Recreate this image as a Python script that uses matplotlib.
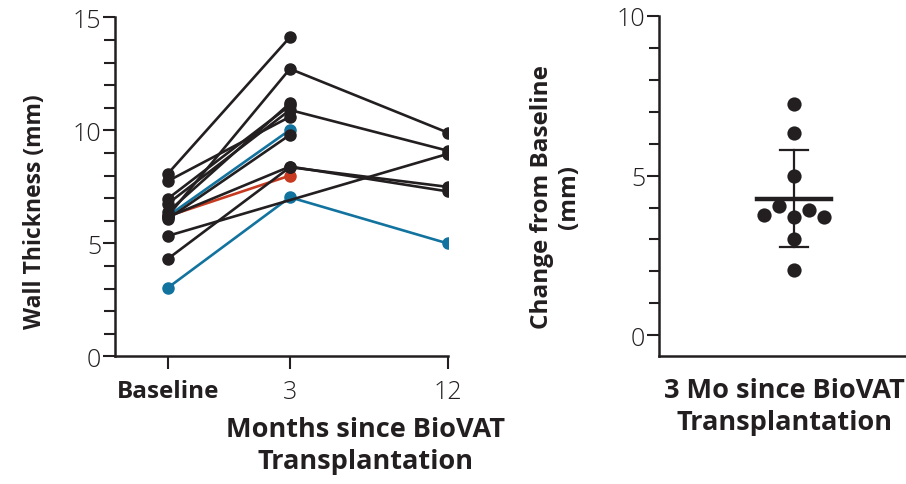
import numpy as np
import matplotlib
matplotlib.use("Agg")
import matplotlib.pyplot as plt

plt.rcParams['font.family'] = ['Open Sans', 'DejaVu Sans']

# wall thickness per patient: baseline, 3 mo, 12 mo (nan = not measured)
baseline = [8.07, 6.2, 7.75, 6.97, 6.75, 6.38, 6.2, 6.08, 4.31, 6.16, 6.2, 3.03, 5.33]
month3 = [14.12, 12.72, 10.6, 11.1, 10.9, 11.2, 10.02, 9.8, 8.37, 8.4, 8.0, 7.04, np.nan]
month12 = [np.nan, 9.9, np.nan, np.nan, 9.1, np.nan, np.nan, np.nan, 7.5, 7.3, np.nan, 5.0, 8.96]
groups = ['k', 'k', 'k', 'k', 'k', 'k', 'b', 'k', 'k', 'k', 'r', 'b', 'k']
time_labels = ['Baseline', '3', '12']

# change from baseline at 3 months
change = [7.24, 6.33, 4.97, 4.06, 3.93, 3.77, 3.70, 3.70, 3.02, 2.06]
jitter = [0, 0, 0, -1, 1, -2, 0, 2, 0, 0]
change_mean = 4.28
change_lo = 2.75
change_hi = 5.81

colors = {'k': '#231f20', 'b': '#12739f', 'r': '#c63a20'}
xpos = [0, 1, 2.29]
ink = '#231f20'

fig = plt.figure(figsize=(9.06, 4.85), dpi=100)
ax = fig.add_axes([0.1269, 0.2629, 0.3673, 0.6994])
ax2 = fig.add_axes([0.7274, 0.2629, 0.2726, 0.7027])

# draw black first, coloured on top
order = [i for i, g in enumerate(groups) if g == 'k'] + [i for i, g in enumerate(groups) if g != 'k']
for i in order:
    ys = np.array([baseline[i], month3[i], month12[i]])
    xs = np.array(xpos)
    ok = ~np.isnan(ys)
    ax.plot(xs[ok], ys[ok], color=colors[groups[i]], lw=1.9, marker='o', ms=8,
            zorder=3 if groups[i] == 'k' else 2)

ax.set_xlim(-0.43, 2.29)
ax.set_ylim(0, 15)
ax.set_xticks(xpos)
ax.set_xticklabels(time_labels)
ax.set_yticks([0, 5, 10, 15])
ax.set_yticks(np.arange(0, 16, 1), minor=True)
for s in ['top', 'right']:
    ax.spines[s].set_visible(False)
for s in ['left', 'bottom']:
    ax.spines[s].set_linewidth(1.8)
    ax.spines[s].set_color(ink)
ax.tick_params(axis='both', which='major', length=9, width=1.5, labelsize=18, color=ink, labelcolor=ink)
ax.tick_params(axis='y', which='minor', length=8, width=1.5, color=ink)
ax.tick_params(axis='x', which='minor', length=0)
ax.tick_params(axis='y', pad=1)
ax.tick_params(axis='x', pad=7)
bl = ax.get_xticklabels()[0]
bl.set_fontweight('bold')
bl.set_fontsize(17.5)
for t in ax.get_yticklabels():
    t.set_fontweight('light')
for t in ax.get_xticklabels()[1:]:
    t.set_fontweight('light')
ax.set_ylabel('Wall Thickness (mm)', fontsize=16.5, fontweight='bold', color=ink)
ax.yaxis.set_label_coords(-0.205, 0.43)

fig.text(0.403, 0.08, 'Months since BioVAT\nTransplantation', ha='center', va='center',
         fontsize=19.5, fontweight='bold', color=ink, linespacing=1.3)

# right panel
ax2.scatter(jitter, change, s=105, color=colors['k'], zorder=3, linewidths=0)
ax2.plot([-2.47, 2.47], [change_mean, change_mean], color=colors['k'], lw=3.2, zorder=2)
ax2.plot([0, 0], [change_lo, change_hi], color=colors['k'], lw=1.6, zorder=2)
ax2.plot([-0.93, 0.93], [change_hi, change_hi], color=colors['k'], lw=1.6, zorder=2)
ax2.plot([-0.93, 0.93], [change_lo, change_lo], color=colors['k'], lw=1.6, zorder=2)
ax2.set_xlim(-9, 7.47)
ax2.set_ylim(-0.66, 10)
ax2.set_xticks([])
ax2.set_yticks([0, 5, 10])
ax2.set_yticks(np.arange(0, 11, 1), minor=True)
for s in ['top', 'right']:
    ax2.spines[s].set_visible(False)
for s in ['left', 'bottom']:
    ax2.spines[s].set_linewidth(1.8)
    ax2.spines[s].set_color(ink)
ax2.tick_params(axis='y', which='major', length=9, width=1.5, labelsize=18, pad=1, color=ink, labelcolor=ink)
ax2.tick_params(axis='y', which='minor', length=7, width=1.5, color=ink)
for t in ax2.get_yticklabels():
    t.set_fontweight('light')
ax2.set_ylabel('Change from Baseline\n(mm)', fontsize=17.5, fontweight='bold',
               color=ink, linespacing=1.15)
ax2.yaxis.set_label_coords(-0.316, 0.47)
fig.text(0.866, 0.16, '3 Mo since BioVAT\nTransplantation', ha='center', va='center',
         fontsize=19.5, fontweight='bold', color=ink, linespacing=1.3)

fig.savefig('out.png', dpi=100)
